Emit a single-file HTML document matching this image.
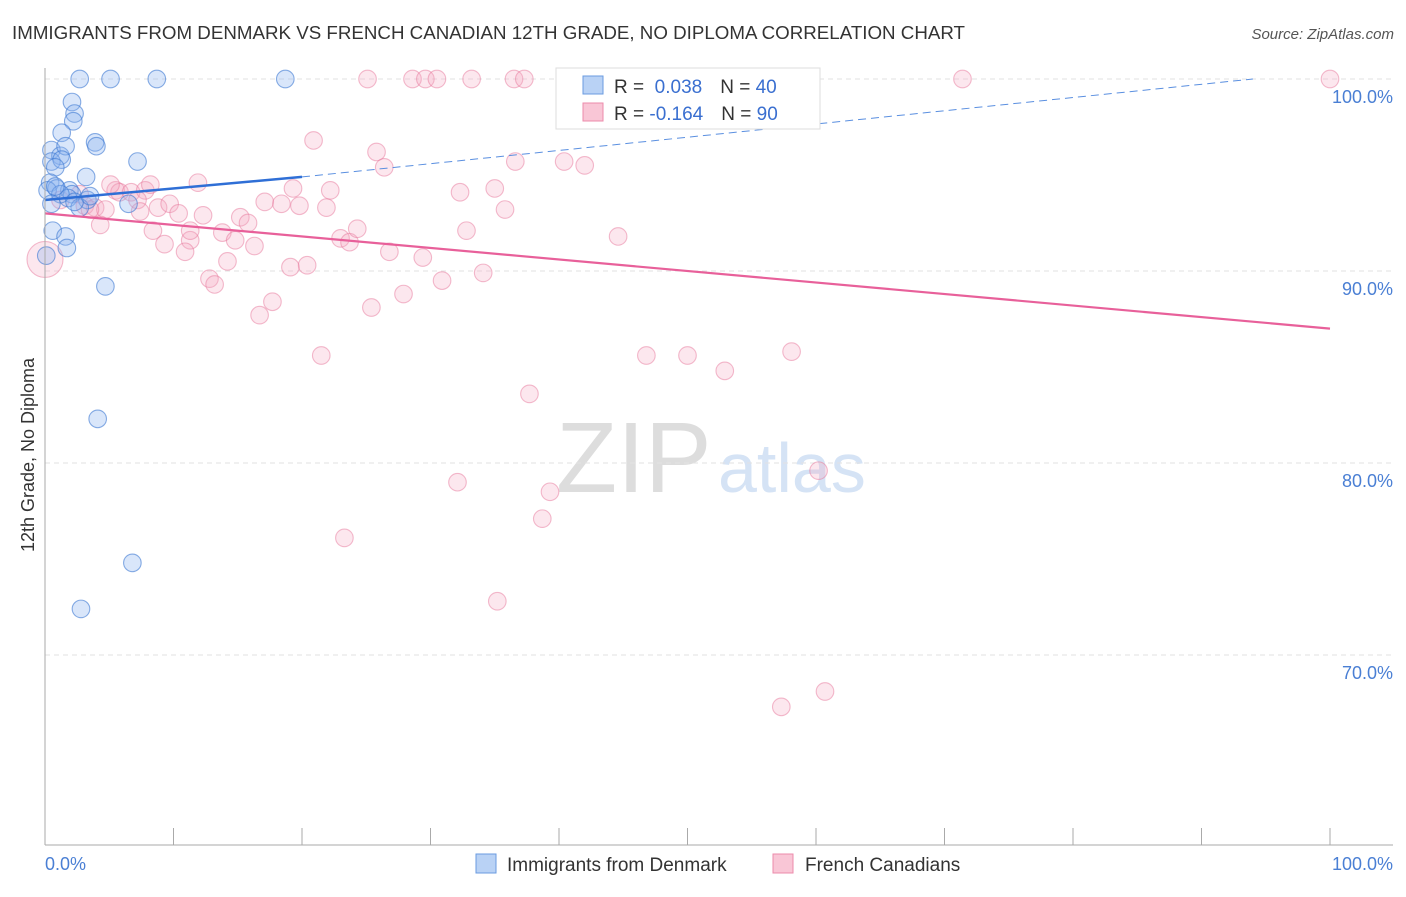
<!DOCTYPE html>
<html><head><meta charset="utf-8"><style>
body{margin:0;background:#fff;font-family:"Liberation Sans",sans-serif;}
svg text{font-family:"Liberation Sans",sans-serif;}
</style></head><body>
<svg id="c" width="1406" height="892" xmlns="http://www.w3.org/2000/svg">
<text x="12" y="39" font-size="18" fill="#333" textLength="953" lengthAdjust="spacingAndGlyphs">IMMIGRANTS FROM DENMARK VS FRENCH CANADIAN 12TH GRADE, NO DIPLOMA CORRELATION CHART</text>
<text x="1394" y="39" font-size="15" fill="#555" text-anchor="end" font-style="italic">Source: ZipAtlas.com</text>
<text x="34" y="455" font-size="18" fill="#333" text-anchor="middle" transform="rotate(-90 34 455)">12th Grade, No Diploma</text>
<text x="556" y="492" font-size="100" fill="#ddd" font-family="Liberation Serif">ZIP</text>
<text x="718" y="492" font-size="70" fill="#d5e3f5">atlas</text>
<g id="grid"></g><g id="pts"></g><g id="trend"></g>
<line x1="45" y1="68" x2="45" y2="845" stroke="#aaa"/>
<line x1="45" y1="845" x2="1393" y2="845" stroke="#aaa"/>
<text x="45" y="870" font-size="18" fill="#4a7fd4">0.0%</text>
<text x="1393" y="870" font-size="18" fill="#4a7fd4" text-anchor="end">100.0%</text>
<g>
<rect x="556" y="68" width="264" height="61" fill="#fff" stroke="#ddd"/>
<rect x="583" y="76" width="20" height="18" fill="#b9d2f5" stroke="#6a9be0"/>
<rect x="583" y="103" width="20" height="18" fill="#f9c6d6" stroke="#ec8bab"/>
<text x="614" y="93" font-size="19" fill="#333">R = <tspan fill="#3a6fd0">&#160;0.038</tspan><tspan dx="18">N = </tspan><tspan fill="#3a6fd0">40</tspan></text>
<text x="614" y="120" font-size="19" fill="#333">R = <tspan fill="#3a6fd0">-0.164</tspan><tspan dx="18">N = </tspan><tspan fill="#3a6fd0">90</tspan></text>
</g>
<g>
<rect x="476" y="854" width="20" height="19" fill="#b9d2f5" stroke="#6a9be0"/>
<text x="507" y="871" font-size="19" fill="#333">Immigrants from Denmark</text>
<rect x="773" y="854" width="20" height="19" fill="#f9c6d6" stroke="#ec8bab"/>
<text x="805" y="871" font-size="19" fill="#333">French Canadians</text>
</g>
</svg>
<script>
const yTicks=[100,90,80,70];
const xTicks=[0,10,20,30,40,50,60,70,80,90,100];
const blueX=[2.7,5.1,8.7,18.7,2.1,2.3,2.2,1.3,3.9,4.0,0.5,1.2,1.6,0.5,1.3,0.8,7.2,3.2,0.4,0.9,1.9,0.2,2.1,3.3,1.8,6.5,2.7,0.6,1.6,1.7,0.1,4.7,4.1,6.8,2.8,1.2,0.5,2.3,0.8,3.5];
const blueY=[100,100,100,100,98.8,98.2,97.8,97.2,96.7,96.5,96.3,96.0,96.5,95.7,95.8,95.4,95.7,94.9,94.6,94.3,94.2,94.2,94.0,93.7,93.8,93.5,93.3,92.1,91.8,91.2,90.8,89.2,82.3,74.8,72.4,94.0,93.5,93.6,94.4,93.9];
const pinkX=[25.1,28.6,29.6,30.5,33.2,36.5,37.3,47.7,71.4,100,20.9,25.8,26.4,36.6,40.4,42.0,11.9,19.3,22.2,32.3,35.0,5.5,5.8,6.7,7.8,2.7,3.1,3.9,4.7,4.3,7.2,8.8,9.7,10.4,12.3,17.1,18.4,19.8,21.9,35.8,15.2,15.8,8.4,9.3,11.3,10.9,13.8,14.8,16.3,23.0,23.7,24.3,32.8,44.6,26.8,29.4,14.2,19.1,20.4,12.8,13.2,17.7,16.7,25.4,27.9,30.9,34.1,21.5,46.8,50.0,52.9,58.1,37.7,32.1,39.3,38.7,60.2,23.3,35.2,57.3,60.7,1.2,3.5,7.4,8.2,5.1,11.3,0];
const pinkY=[100,100,100,100,100,100,100,100,100,100,96.8,96.2,95.4,95.7,95.7,95.5,94.6,94.3,94.2,94.1,94.3,94.2,94.1,94.1,94.2,94.0,93.4,93.3,93.2,92.4,93.7,93.3,93.5,93.0,92.9,93.6,93.5,93.4,93.3,93.2,92.8,92.5,92.1,91.4,91.6,91.0,92.0,91.6,91.3,91.7,91.5,92.2,92.1,91.8,91.0,90.7,90.5,90.2,90.3,89.6,89.3,88.4,87.7,88.1,88.8,89.5,89.9,85.6,85.6,85.6,84.8,85.8,83.6,79.0,78.5,77.1,79.6,76.1,72.8,67.3,68.1,93.7,93.2,93.1,94.5,94.5,92.1,90.6];
const blueTrend=[[0,93.7],[20,94.9],[94,100]];
const pinkTrend=[[0,93.0],[100,87.0]];
const NS="http://www.w3.org/2000/svg";
const X=v=>45+v*12.85, Y=v=>79+(100-v)*19.2;
function mk(t,a,p){const e=document.createElementNS(NS,t);for(const k in a)e.setAttribute(k,a[k]);p.appendChild(e);return e;}
const grid=document.getElementById('grid'),pts=document.getElementById('pts'),tr=document.getElementById('trend');
yTicks.forEach(v=>{
 const l=mk('line',{x1:45,x2:1393,y1:Y(v),y2:Y(v),stroke:'#e2e2e2','stroke-dasharray':'5,4'},grid);
 
 
 const t=mk('text',{x:1393,y:Y(v)+24,'font-size':18,fill:'#4a7fd4','text-anchor':'end'},grid);
 t.textContent=v.toFixed(1)+'%';
 
 
});
xTicks.forEach(v=>{
 const l=mk('line',{x1:X(v),x2:X(v),y1:828,y2:845,stroke:'#aaa'},grid);
 
 
});
pinkX.forEach((x,i)=>{
 const big=(x===0&&pinkY[i]<91);
 const c=mk('circle',{cx:X(x),cy:Y(pinkY[i]),r:big?18:8.8,fill:'rgba(244,170,195,0.28)',stroke:'rgba(232,120,155,0.5)','stroke-width':1.1},pts);
 
 
});
blueX.forEach((x,i)=>{
 const c=mk('circle',{cx:X(x),cy:Y(blueY[i]),r:8.8,fill:'rgba(140,180,240,0.33)',stroke:'rgba(60,120,210,0.6)','stroke-width':1.1},pts);
 
 
});
let b=mk('line',{x1:X(blueTrend[0][0]),y1:Y(blueTrend[0][1]),x2:X(blueTrend[1][0]),y2:Y(blueTrend[1][1]),stroke:'#2f6fd6','stroke-width':2.5},tr);


let bd=mk('line',{x1:X(blueTrend[1][0]),y1:Y(blueTrend[1][1]),x2:X(blueTrend[2][0]),y2:Y(blueTrend[2][1]),stroke:'#5a8fe0','stroke-width':1,'stroke-dasharray':'8,5'},tr);


let p=mk('line',{x1:X(pinkTrend[0][0]),y1:Y(pinkTrend[0][1]),x2:X(pinkTrend[1][0]),y2:Y(pinkTrend[1][1]),stroke:'#e8609a','stroke-width':2.2},tr);


</script>
</body></html>
